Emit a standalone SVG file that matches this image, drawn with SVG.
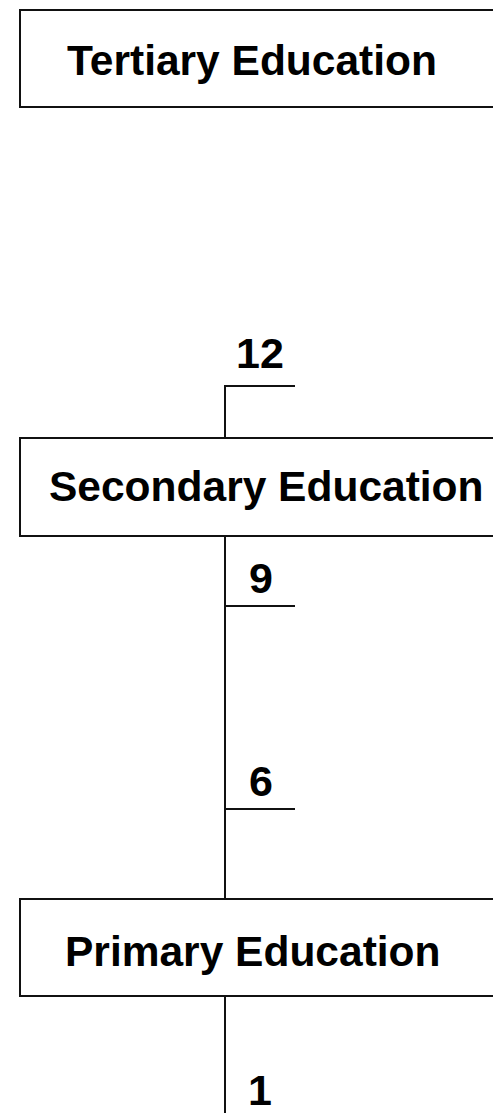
<svg xmlns="http://www.w3.org/2000/svg" width="493" height="1113" viewBox="0 0 493 1113">
  <style>
    .box { fill: #ffffff; stroke: #111111; stroke-width: 2; }
    .label { font-family: "Liberation Sans", Arial, sans-serif; font-weight: bold; font-size: 42.5px; fill: #000000; }
    .num { font-family: "Liberation Sans", Arial, sans-serif; font-weight: bold; font-size: 43px; fill: #000000; text-anchor: middle; }
    .line { fill: none; stroke: #111111; stroke-width: 2; }
  </style>
  <rect x="0" y="0" width="493" height="1113" fill="#ffffff"/>
  <g id="connectors">
    <path class="line" d="M225,438 V386 H295"/>
    <path class="line" d="M225,536 V899"/>
    <path class="line" d="M225,606 H295"/>
    <path class="line" d="M225,809 H295"/>
    <path class="line" d="M225,996 V1113"/>
  </g>
  <g id="tertiary">
    <rect class="box" x="20" y="10" width="500" height="97"/>
    <text class="label" x="67" y="75">Tertiary Education</text>
  </g>
  <g id="secondary">
    <rect class="box" x="20" y="438" width="500" height="98"/>
    <text class="label" x="49" y="501">Secondary Education</text>
  </g>
  <g id="primary">
    <rect class="box" x="20" y="899" width="500" height="97"/>
    <text class="label" x="65" y="966">Primary Education</text>
  </g>
  <g id="marks">
    <text class="num" x="260" y="368">12</text>
    <text class="num" x="261" y="593">9</text>
    <text class="num" x="261" y="796">6</text>
    <text class="num" x="260" y="1105">1</text>
  </g>
</svg>
